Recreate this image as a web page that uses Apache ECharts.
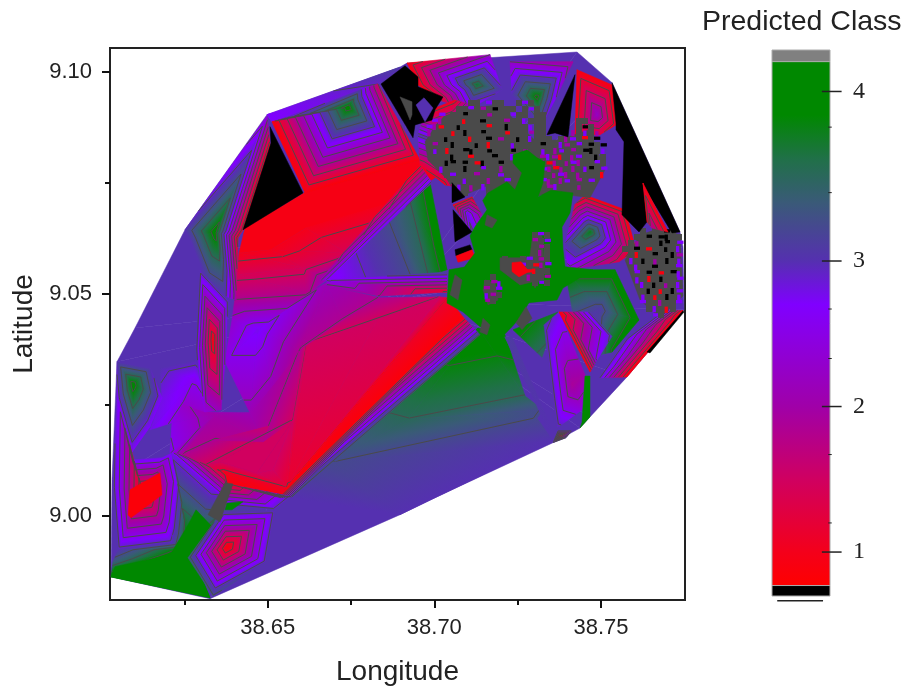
<!DOCTYPE html>
<html><head><meta charset="utf-8">
<style>html,body{margin:0;padding:0;background:#fff}#c{width:904px;height:688px}</style>
<script src="https://cdn.jsdelivr.net/npm/echarts@6/dist/echarts.min.js"></script>
</head><body><div id="c"></div>
<script>
// Geography: longitude = LON0 + a/1000, latitude = LAT0 + b/1000
const LON0 = 38.6, LAT0 = 8.98;
const lonTicks = [38.65, 38.70, 38.75], lonMinor = [38.625, 38.675, 38.725];
const latTicks = [9.00, 9.05, 9.10], latMinor = [9.025, 9.075];
const classTicks = [1, 2, 3, 4.165], classMinor = [1.2, 1.67, 2.33, 2.67, 3.47, 3.92];
const contourLevels = [1.15, 1.5, 1.85, 2.2, 2.55, 2.9, 3.25, 3.6, 3.95];
const rampStops = [[0.77,'#ff0000'],[1,'#f4001a'],[1.5,'#d00060'],[2,'#a000a8'],[2.7,'#8000ff'],[3,'#5530b0'],[3.4,'#3a5a78'],[3.7,'#207048'],[4,'#008800'],[4.37,'#008800']];

// Triangle fans: a,b,class, first vertex is the fan centre
const hullBase = [89.7,68.6,3, 49.8,110.3,3, 89.7,121,3, 91.8,121.9,3, 142.8,124.4,3, 153.3,117.5,3, 173.7,83.9,3, 174.6,80.5,3, 174.9,66.4,3, 157.8,51.3,3, 146.7,42.3,3, 143.7,39.8,3, 135.6,36.5,3, 98.7,23.6,3, 89.7,20.3,3, 32.7,1.4,3, 3,6.3,3, 3.3,28.1,3, 4.8,54.7,3, 10.2,62.3,3, 25.2,84.4,3, 49.8,110.3,3];
const plateau = [34.2,42.8,2, 22.8,45.7,2.3, 31.5,43.4,2.1, 44.7,43.2,2.1, 48.6,36.7,1.84, 34.2,37.1,1.84, 24.6,33.8,1.84, 20.7,34.2,2.6, 21.3,41,2.5, 22.8,45.7,2.3];
const plateauLow = [37.2,29.7,1, 38.1,27.2,0.9, 37.2,23.6,2.8, 21.3,34.2,2.7, 24.6,33.8,1.84, 31.8,31.6,1.49, 35.7,32.2,1.49, 46.8,29.7,1.49, 55.8,26.5,1.14, 53.1,24.1,0.85, 38.1,27.2,0.9];
const plateauEast = [59.7,57.4,1.84, 48.6,36.7,1.84, 44.7,43.2,2.1, 51.6,49.5,2.1];
const westViolet = [28.2,50.6,2.6, 17.7,53.3,3, 28.5,55.1,3, 31.2,43.4,2.3, 22.8,45.7,2.3, 21.3,41,2.5, 14.7,39.4,2.8, 18.3,46.6,2.8, 17.7,53.3,3];
const westPeak = [9.6,49.6,4.1, 4.8,54.7,3, 14.7,53.3,3, 18.3,46.6,2.7, 14.7,40.1,2.7, 9.3,34.4,2.7, 4.8,46.1,2.7, 4.8,54.7,3];
const redPeak = [12.6,25.4,0.85, 4.8,46.1,2.8, 9.3,32.6,2.8, 18.3,33.1,2.8, 21.3,34.2,2.8, 23.1,28.1,2.8, 21.6,17.6,2.8, 21.3,13.9,3, 5.1,12.4,3, 3.6,26.5,3, 4.8,46.1,2.8];
const greenFan = [26.7,12.4,4.2, 3,6.3,4.2, 3.6,9.7,3.4, 5.1,12.4,3, 21.3,13.9,3, 21.6,17.6,2.8, 23.1,28.1,2.8, 21.3,34.2,2.8, 33.6,25.9,2.8, 37.2,23.6,3, 34.2,16.9,4.2, 25.8,10.8,4.2, 32.7,1.6,4.2, 3,6.3,4.2];
const southDiamond = [37.8,13,0.85, 26.1,10.6,3.4, 33.6,2,3.3, 49.5,9.7,3, 52.2,21.1,3, 36.6,21.4,3.2, 26.1,10.6,3.4];
const ridgeTip = [38.1,27.2,1, 53.7,24.1,1, 57.3,24.3,3, 52.5,21.4,3, 37.2,22.5,3];
// lower green slope, following its read contour rows
const greenSlopeTop = [113.1,62.3,4.2, 121.2,60.8,4.2, 127.2,47,3.59, 92.1,41.7,3.59];
const greenSlopeMid = [92.1,41.7,3.59, 127.2,47,3.59, 132.6,43.9,3.24, 130.8,42,3.24, 69.6,32,3.24];
const greenSlopeLow = [69.6,32,3.24, 130.8,42,3.24, 135.6,36.9,3, 89.7,20.3,3, 56.1,24.1,3];
const greenSlopeWest = [113.1,62.3,4.2, 92.1,41.7,3.59, 69.6,32,3.24, 56.1,24.1,3];
const violetRay = [121.2,60.3,3.1, 123.3,60.3,3.1, 135.6,38.9,3, 134,39.5,3];
const ridgeBand = [108.6,64.8,0.85, 113.7,60.8,3.3, 57.3,24.3,3.3, 53.1,24.1,0.85];
// red wedge, row by row away from the ridge
const wedgeRow0 = [53.1,24.1,0.85, 108.6,64.8,0.85, 104.1,69.1,1.14, 89.7,56.7,1.14, 55.8,26.5,1.14];
const wedgeRow1 = [55.8,26.5,1.14, 89.7,56.7,1.14, 104.1,69.1,1.14, 101.7,69.3,1.49, 82.8,64.1,1.49, 61.8,58.9,1.49, 57.6,41.6,1.49, 51.6,30.4,1.49, 46.8,29.7,1.49];
const wedgeRow2a = [57.6,41.6,1.49, 51.6,30.4,1.49, 46.8,29.7,1.49, 35.7,32.2,1.49, 31.8,31.6,1.49, 24.6,33.8,1.84, 34.2,37.1,1.84, 48.6,36.7,1.84, 59.7,57.4,1.84, 61.8,58.9,1.49];
const wedgeRow2b = [61.8,58.9,1.49, 59.7,57.4,1.84, 72.6,64.1,1.84, 83.7,69.1,1.84, 101.7,69.3,1.49, 82.8,64.1,1.49];
const wedgeShoulder = [67.8,71.8,2.1, 83.7,69.1,1.84, 72.6,64.1,1.84, 59.7,57.4,1.84, 62.1,70.2,1.8];
const band1a = [41.4,79.2,1, 51,79.9,1, 60.6,75.8,1.4, 40.8,74.3,1.4];
const band1b = [51,79.9,1, 61.5,84.8,1, 73.8,79.2,1.4, 60.6,75.8,1.4];
const band1c = [61.5,84.8,1, 84.6,89.3,1, 89.7,91.1,1, 73.8,79.2,1.4];
const band1d = [89.7,91.1,1, 67.8,73.1,2.2, 73.8,79.2,1.4];
const band2a = [40.8,74.3,1.4, 60.6,75.8,1.4, 62.1,70.2,1.8, 40.2,69.1,1.8];
const band2b = [60.6,75.8,1.4, 73.8,79.2,1.4, 67.8,73.1,2.2, 62.1,70.2,1.8];
const pocket = [47.1,61.9,2.75, 40.2,69.1,1.8, 62.1,70.2,1.8, 67.8,72.5,2.1, 59.7,57.4,1.84, 51.6,49.5,2.1, 44.7,43.2,2.1, 37.2,54.7,2.5, 39.3,64.1,2.3, 40.2,69.1,1.8];
const spike = [33.6,59.8,0.9, 29.7,75.4,3, 38.1,68.6,3, 37.5,57.4,2.7, 36,43.9,2.1, 31.2,43.4,2.4, 28.5,57.4,3, 29.7,75.4,3];
const northFlank = [34.2,83.9,4.1, 25.2,84.4,3, 49.8,110,2.4, 50.7,103.5,1, 42.6,84.4,1, 41.1,82.6,1, 40.5,68.6,2, 37.2,69.5,3, 32.1,72,3, 26.7,82.1,3, 25.2,84.4,3];
const topStrip = [49.8,110.3,2.7, 89.7,121,3.1, 83.1,117.2,2.9, 51.3,108.7,2.7];
const topDiamond = [74.1,112,4.1, 51.3,108.7,0.85, 56.7,109.8,2.8, 77.7,115.9,3, 83.1,117.2,1.5, 95.7,100.1,0.85, 61.2,92.7,0.85, 51.3,108.7,0.85];
const topPatch = [112.8,117,3.8, 91.8,121.9,0.9, 116.7,123.8,2.2, 120.3,115.9,3, 110.4,111.4,2.5, 101.4,113.6,1, 95.1,117,0.9, 91.8,121.9,0.9];
const topVee = [130.8,114.3,4.05, 122.7,122.2,2.2, 141.6,122.2,1.9, 136.2,113.6,2.6, 131.7,107.3,3, 123.3,114.8,3, 122.7,122.2,2.2];
const northEast = [148.8,110.3,2.2, 142.8,120.4,0.9, 153.3,117,0.9, 154.5,108,1, 149.7,105.8,1.2, 142.2,105.8,1, 142.8,120.4,0.9];
const innerWedge = [162.6,94.9,0.9, 170.1,83.9,0.9, 165.3,84.8,1.8, 163.8,86.2,0.9];
const eastTeal = [149.7,66.4,3.1, 139.2,75.4,4.2, 154.2,75.4,4.2, 161.4,64.1,4.2, 153.3,56.9,4, 149.7,56.3,3.3, 142.2,63,3, 139.2,75.4,4.2];
const eastMid = [146.7,83.9,3.9, 145.2,92.2,0.9, 157.2,88.9,0.9, 160.5,79.9,0.9, 155.4,77.2,1.3, 140.1,75.4,2.4, 139.2,81,3, 142.2,90.1,1.2, 145.2,92.2,0.9];
const zigzag = [141.3,49.5,1.9, 132.9,63,3, 137.4,65.9,2.8, 145.2,51.8,2, 144.3,43.9,2.4, 136.8,39.8,3, 135.6,46.1,3, 132.9,63,3];
const redSliver = [137.4,65.9,0.85, 146.7,52.4,0.85, 148.8,55.1,2.6, 153.3,60.4,3, 146.7,65.9,3];
const tealTri = [123.6,61.9,4.1, 132.3,55.7,3.5, 137.1,65.9,3.8];
const tinyRed = [137.7,38,0.9, 135.6,36.5,3, 137.1,39.2,3, 141.3,39.2,3, 139.5,37.6,3, 135.6,36.5,3];
const southEastRim = [174.6,66.2,0.85, 157.8,51.3,0.85, 149.7,51.1,2.9, 157.2,59.6,3, 169.2,66.4,3];
const noiseRim = [103.2,103.5,3, 95.1,105.8,3, 97.2,110.9,1, 106.2,113.6,1, 113.7,111.9,3, 110.7,93.4,3, 103.2,94.5,1, 95.7,99,1.2, 95.1,105.8,3];
// violet-to-green star, columns of constant class
const starWest = [67.8,73.1,2.6, 86.1,86.6,3.24, 93,73.6,3.24];
const starMid = [86.1,86.6,3.24, 92.7,90.5,3.59, 98.1,74,3.59, 93,73.6,3.24];
const starEast = [92.7,90.5,3.59, 98.7,95,4.15, 103.8,75.4,4.15, 98.1,74,3.59];
const starTop = [65.7,73.1,2.1, 89.7,91.6,1, 95.7,99,1, 99.3,95,3, 67.8,73.1,2.6];
const starLow = [67.8,73.1,2.6, 103.8,74.9,3.2, 103.8,70.4,1.1, 83.7,69.5,1.84, 67.8,71.8,2.1];
const nookBand = [109.8,88.2,2.8, 105.6,90,0.9, 111.3,91.8,1, 114.3,87.8,2, 111.3,83.9,3, 105.6,90,0.9];

// Flat-valued regions: a,b pairs
const GREY = -1;
const redCore = [8.1,20.2, 8.7,25.9, 17.7,29.7, 18.3,24.8, 9,19.6];
const greenFlat = [3,6.3, 4.2,8.6, 20.7,11.2, 26.1,18, 28.5,21.4, 34.2,16.9, 31.2,13.5, 25.8,10.8, 32.7,1.6];
const greenStrip = [37.8,22.9, 42.6,23.2, 39.3,21.4, 37.2,21.4];
const greyRect = [37.2,27.5, 39.6,27.2, 35.7,18.7, 32.1,20.3];
const redTop = [43.2,84.8, 60.9,92.7, 95.7,100.1, 100.2,96.1, 89.7,91.1, 84.6,89.3, 61.5,84.8, 51,79.9, 41.4,79.2];
const blackWest = [60.6,92.7, 42.6,84.4, 51,103.9, 50.7,107.6];
const blackTop = [84,117.2, 91.2,121.3, 95.1,118.8, 95.1,116.6, 102.6,114.3, 100.2,111.4, 99.3,109.1, 94.2,108, 93.6,105.1];
const greyBird = [89.7,114.3, 93.3,113.2, 93.3,110.3, 92.7,109.1, 91.2,111.8];
const violetDot = [94.5,112.5, 96.9,114.1, 99.6,111.8, 97.2,108.7];
const blackPeak = [133.8,105.8, 142.2,119.3, 140.1,105.3, 136.2,106.2];
const blackEast = [153.3,117.5, 173.7,83.9, 171.3,83.7, 162.6,94.5, 163.8,86.2, 161.4,83.9, 156.3,87.8, 156.9,104.2, 154.5,106.9, 154.5,108.4];
const greenStripSE = [145.2,51.5, 146.7,51.5, 146.7,42.3, 143.7,39.8, 144.3,41.1];
const blackRim = [174.6,66.2, 174.9,65.9, 164.7,56.7, 163.8,56.9];
const greyEast = [161.7,83.2, 167.7,84.8, 173.7,83.2, 174.6,69.5, 167.7,64.6, 161.7,68.6, 157.2,77.6];
const greyNorth = [100.5,108, 103,110, 108.6,111.4, 113,112, 119.7,112.5, 125.4,108, 130.2,104.5, 137.4,104.6, 146.4,106.9, 151.2,97.9, 146.7,91.6, 140.4,92.2, 128.4,92.2, 122.4,93.4, 116.4,94.5, 108.9,92.2, 103.5,96, 98.1,100.1, 97.2,104.2];
const blackNookA = [105.3,95, 109.2,91.8, 105.3,90.5];
const blackNookB = [105.6,88.9, 111.3,83.9, 106.2,81.7];
const blackNookC = [106.2,79.9, 110.7,81, 111.3,79.9, 106.5,78.5];
const redNook = [106.5,78.5, 111.3,79.9, 112.2,78.1, 107.1,77.1];
const greenBlob = [123.6,101.2, 127.8,102.4, 130.8,100.6, 133.2,99.7, 132.6,95, 131.1,91.8, 135,93.3, 141.6,92.7, 140.7,88.2, 138.3,85, 138.6,80, 139.2,76.1, 147.6,75.4, 138.6,71.3, 136.8,68.6, 128.4,68, 125,64, 123.3,62.6, 120.3,60.3, 113.7,62.6, 108.6,65.9, 103.8,67.9, 104.4,75.4, 109,76, 112.2,79.2, 110.7,83, 112.2,85.1, 115.8,88.9, 114.5,91, 116.1,92.7, 121.8,95.2, 124.2,93.4, 126.3,97.2, 123.6,99.4];
const blobHoles = [[115.2,73.1, 118.2,72.4, 119.1,68.6, 116.1,67.5, 114.6,70.9],[129.6,83.7, 132.3,83, 133.2,75.4, 130.2,71.3, 128.1,75.4],[119.7,78.1, 128.7,78.1, 131.7,73.1, 125.7,72, 119.7,75.4],[124.5,63.5, 127.5,67.1, 129.3,64.5, 126.3,61.9],[114.6,64.5, 116.7,63, 115.8,60.8, 113.7,61.4],[115.8,87.8, 118.8,86.6, 117.3,84.8, 115.2,85.5],[106.2,74.3, 108.3,73.1, 107.1,68.6, 104.7,69.8]];
const redCentre = [123.3,77, 126,77.2, 128.4,75, 125.4,73.8, 123.3,75];

// Speckled zones, one letter per cell of predicted class
const speckClass = {g:GREY,k:0.5,r:0.9,m:2,v:2.7,b:3,G:4.2};
const northSpeck = ["........gg.vgg..gvg............","......ggvgmgkggg.gvg...........","...v.ggkgggmgggvggbgg..........","..vmgggrggkgggmggvggg.....gg...",".vmrggkggggrggkgggvgg.....gkg..",".mgggrgkggkgggrgggmgg....mgvgm.","..ggkgggrggkgmggkgvggg.gmvgrgk.","..mggkgggkgrgggvggggkggvmgvgkgk","..vgrggkkggkgggkgmggvgmvgmgkkgv","..gggkggrgggkggvgg.gmvmrgmvggkg","...gkkgkgrkggkg.gv.vmrmgmvmggvg","...vgggkggvggmg...gmvmrmgmgvkgv","....gvgggmgggvg...gvmgmvmgmgggr",".....ggvgggmggv...gmvmgmvgmgv..","......vgm.vggg....gvgmvgg.mgg..",".......g...gg......g.gg...g...."];
const eastSpeck = ["...g.ggkg.","..ggkgkkgg",".gmgggkkgv","ggkgrggkgv",".grggkggkm",".vgkgmgkgv","..vggkgggv","..vgkgrgkv","..vgrgkggv","...vgkgmgv","...gkgrgkv","...vgrgkgv","...vggmggv","....gvgrg.",".....vg..."];
const blobSpeck = ["........gvg.","........mgv.","........gmg.",".........mg.","...g..gv.mg.","......vgrmv.","......grrgg.",".g.....mggm.","gmv.....gvg.","mgv.........","vmg.........","mg.........."];
const noiseZones = [{rows:northSpeck,a:95.7,b:113.6,da:1.8,db:1.35},{rows:eastSpeck,a:156.3,b:84.8,da:1.8,db:1.35}];
const blobZones = [{rows:blobSpeck,a:114.9,b:83.9,da:1.8,db:1.35}];

const layers = [
 ['fan',hullBase],['fan',plateau],['fan',plateauEast],['fan',westViolet],['fan',westPeak],['fan',redPeak],['flat',0.85,redCore],
 ['fan',greenFan],['flat',4.2,greenFlat],['fan',southDiamond],
 ['fan',greenSlopeLow],['fan',greenSlopeMid],['fan',greenSlopeTop],['fan',greenSlopeWest],['fan',tealTri],['fan',violetRay],
 ['fan',plateauLow],['fan',wedgeRow2b],['fan',wedgeRow2a],['fan',wedgeRow1],['fan',wedgeRow0],['fan',ridgeBand],['fan',ridgeTip],['flat',4.2,greenStrip],['flat',GREY,greyRect],
 ['flat',0.95,redTop],['fan',band1a],['fan',band1b],['fan',band1c],['fan',band1d],['fan',band2a],['fan',band2b],['fan',wedgeShoulder],['fan',pocket],
 ['fan',northFlank],['fan',spike],['flat',0.5,blackWest],['fan',topStrip],['fan',topDiamond],['fan',topPatch],['fan',topVee],['fan',northEast],
 ['fan',starWest],['fan',starMid],['fan',starEast],['fan',starTop],['fan',starLow],
 ['fan',eastTeal],['fan',eastMid],['fan',zigzag],['fan',redSliver],['fan',tinyRed],['fan',southEastRim],
 ['fan',noiseRim],['flat',GREY,greyNorth],['flat',GREY,greyEast],['speck',noiseZones],
 ['flat',0.5,blackTop],['flat',GREY,greyBird],['flat',3,violetDot],['flat',0.5,blackPeak],['flat',0.5,blackEast],['fan',innerWedge],
 ['flat',4.2,greenStripSE],['flat',0.5,blackRim],['fan',nookBand],['flat',0.5,blackNookA],['flat',0.5,blackNookB],['flat',0.5,blackNookC],['flat',0.9,redNook],
 ['flat',4.2,greenBlob],...blobHoles.map(h=>['flat',GREY,h]),['speck',blobZones],['flat',0.9,redCentre]
];

// ---- colour ramp
const LINE = '#4a4a4a';
function hex(c){return [1,3,5].map(i=>parseInt(c.substr(i,2),16));}
function colorOf(v){
  if(v===GREY) return LINE;
  if(v<rampStops[0][0]) return '#000000';
  for(let i=1;i<rampStops.length;i++){
    if(v<=rampStops[i][0]){
      const [v0,c0]=rampStops[i-1],[v1,c1]=rampStops[i];
      const t=(v-v0)/(v1-v0),A=hex(c0),B=hex(c1);
      return 'rgb('+A.map((x,k)=>Math.round(x+(B[k]-x)*t)).join(',')+')';
    }
  }
  return rampStops[rampStops.length-1][1];
}
const toGeo = (a,b)=>[LON0+a/1000,LAT0+b/1000];

// ---- each triangle: the class field is linear, so a linear gradient paints it exactly
function triShapes(tri,api,z){
  const out=[];
  const P=tri.map(p=>api.coord(toGeo(p[0],p[1])));
  const vs=tri.map(p=>p[2]),lo=Math.min(...vs),hi=Math.max(...vs);
  const dx1=P[1][0]-P[0][0],dy1=P[1][1]-P[0][1],dx2=P[2][0]-P[0][0],dy2=P[2][1]-P[0][1];
  const dv1=vs[1]-vs[0],dv2=vs[2]-vs[0],det=dx1*dy2-dx2*dy1;
  if(Math.abs(det)<1e-6) return out;
  if(hi-lo<1e-6){
    const c=colorOf(lo);
    out.push({type:'polygon',z2:z,shape:{points:P},style:{fill:c,stroke:c,lineWidth:0.5}});
    return out;
  }
  const gx=(dv1*dy2-dv2*dy1)/det,gy=(dx1*dv2-dx2*dv1)/det,n2=gx*gx+gy*gy;
  const at=v=>[P[0][0]+gx*(v-vs[0])/n2,P[0][1]+gy*(v-vs[0])/n2];
  const A=at(lo),B=at(hi);
  const stops=[{offset:0,color:colorOf(Math.max(lo,0.8))}];
  rampStops.forEach(s=>{if(s[0]>lo&&s[0]<hi)stops.push({offset:(s[0]-lo)/(hi-lo),color:s[1]});});
  stops.push({offset:1,color:colorOf(hi)});
  const grad=()=>new echarts.graphic.LinearGradient(A[0],A[1],B[0],B[1],stops,true);
  out.push({type:'polygon',z2:z,shape:{points:P},style:{fill:grad(),stroke:grad(),lineWidth:0.6}});
  contourLevels.forEach(L=>{
    if(L<=lo||L>=hi)return;
    const seg=[];
    for(let i=0;i<3;i++){
      const p=tri[i],q=tri[(i+1)%3];
      if((p[2]<L)!==(q[2]<L)){const k=(L-p[2])/(q[2]-p[2]);seg.push(api.coord(toGeo(p[0]+(q[0]-p[0])*k,p[1]+(q[1]-p[1])*k)));}
    }
    if(seg.length===2) out.push({type:'line',z2:z+0.5,shape:{x1:seg[0][0],y1:seg[0][1],x2:seg[1][0],y2:seg[1][1]},style:{stroke:LINE,lineWidth:1}});
  });
  return out;
}
function layerShapes(layer,api,z){
  const kind=layer[0];
  if(kind==='fan'){
    const arr=layer[1],pts=[];
    for(let i=0;i<arr.length;i+=3)pts.push([arr[i],arr[i+1],arr[i+2]]);
    let out=[];
    for(let i=1;i<pts.length-1;i++)out=out.concat(triShapes([pts[0],pts[i],pts[i+1]],api,z));
    return out;
  }
  if(kind==='flat'){
    const arr=layer[2],pts=[];
    for(let i=0;i<arr.length;i+=2)pts.push(api.coord(toGeo(arr[i],arr[i+1])));
    const c=colorOf(layer[1]);
    return [{type:'polygon',z2:z,shape:{points:pts},style:{fill:c,stroke:c,lineWidth:0.5}}];
  }
  const out=[];
  layer[1].forEach(zn=>zn.rows.forEach((row,r)=>[...row].forEach((ch,cc)=>{
    if(ch==='.')return;
    const p0=api.coord(toGeo(zn.a+cc*zn.da,zn.b-r*zn.db)),p1=api.coord(toGeo(zn.a+(cc+1)*zn.da,zn.b-(r+1)*zn.db));
    const w=p1[0]-p0[0],h=p1[1]-p0[1];
    const isGrey=ch==='g';
    const tall=(r+cc)%2===0;
    const sw=isGrey?w:w*(tall?0.55:1.05), sh=isGrey?h:h*(tall?1.05:0.55);
    const sx=isGrey?0:((r*7+cc*3)%3)*w*0.1, sy=isGrey?0:((r*5+cc*2)%3)*h*0.1;
    out.push({type:'rect',z2:z,shape:{x:p0[0]+sx,y:p0[1]+sy,width:sw,height:sh},style:{fill:colorOf(speckClass[ch])}});
  })));
  return out;
}

// ---- colour bar
const CB_LOW=0.698, CB_HIGH=4.45, CB_RED=0.77, CB_TOP=4.37, CB_UNDER=0.665;
const barStops=rampStops.map(s=>({offset:(CB_TOP-s[0])/(CB_TOP-CB_RED),color:s[1]})).reverse();

const chart=echarts.init(document.getElementById('c'),null,{renderer:'canvas'});
const tickText={fontFamily:'Liberation Sans',fontSize:22,color:'#222'};
const titleText={fontFamily:'Liberation Sans',fontSize:28,color:'#222'};
chart.setOption({
 animation:false,backgroundColor:'#fff',
 title:{text:'Predicted Class',left:697,top:3,textStyle:{...titleText,fontSize:28.5,fontWeight:'normal'}},
 grid:[{left:110,top:48,width:575,height:552,show:true,borderColor:'#222',borderWidth:2,backgroundColor:'#fff',outerBoundsMode:'none'},{left:772,top:50,width:58,height:546,outerBoundsMode:'none'}],
 xAxis:[
  {gridIndex:0,type:'value',position:'bottom',min:38.6027,max:38.7752,splitLine:{show:false},axisLine:{show:false},
   axisTick:{length:8,customValues:lonTicks,lineStyle:{color:'#111',width:2}},
   axisLabel:{customValues:lonTicks,formatter:v=>v.toFixed(2),margin:17,...tickText},
   name:'Longitude',nameLocation:'middle',nameGap:58,nameTextStyle:titleText},
  {gridIndex:0,type:'value',position:'bottom',min:38.6027,max:38.7752,splitLine:{show:false},axisLine:{show:false},axisLabel:{show:false},
   axisTick:{length:5,customValues:lonMinor,lineStyle:{color:'#111',width:2}}},
  {gridIndex:1,type:'value',min:0,max:1,show:false}
 ],
 yAxis:[
  {gridIndex:0,type:'value',position:'left',min:8.9811,max:9.1053,splitLine:{show:false},axisLine:{show:false},
   axisTick:{length:8,customValues:latTicks,lineStyle:{color:'#111',width:2}},
   axisLabel:{customValues:latTicks,formatter:v=>v.toFixed(2),margin:18,...tickText},
   name:'Latitude',nameLocation:'middle',nameGap:72,nameTextStyle:titleText},
  {gridIndex:0,type:'value',position:'left',min:8.9811,max:9.1053,splitLine:{show:false},axisLine:{show:false},axisLabel:{show:false},
   axisTick:{length:5,customValues:latMinor,lineStyle:{color:'#111',width:2}}},
  {gridIndex:1,type:'value',position:'right',min:CB_LOW,max:CB_HIGH,splitLine:{show:false},axisLine:{show:false},axisTick:{show:false},
   axisLabel:{customValues:classTicks,formatter:v=>String(Math.round(v)),margin:23,fontFamily:'Liberation Serif',fontSize:24,color:'#222'}}
 ],
 series:[
  {type:'custom',xAxisIndex:0,yAxisIndex:0,silent:true,clip:true,coordinateSystem:'cartesian2d',encode:{x:0,y:1},
   data:layers.map((l,i)=>[38.7,9.05,i]),
   renderItem:(p,api)=>({type:'group',children:layerShapes(layers[api.value(2)],api,api.value(2)+1)})},
  {type:'custom',xAxisIndex:2,yAxisIndex:2,silent:true,coordinateSystem:'cartesian2d',encode:{x:0,y:1},
   data:[[0,CB_LOW]],
   renderItem:(p,api)=>{
     const rect=(lo,hi,fill)=>{const a=api.coord([0,hi]),b=api.coord([1,lo]);return {type:'rect',shape:{x:a[0],y:a[1],width:b[0]-a[0],height:b[1]-a[1]},style:{fill,stroke:'#aaa',lineWidth:1}};};
     const tick=(v,x0,x1,w)=>{const a=api.coord([x0,v]),b=api.coord([x1,v]);return {type:'line',z2:5,shape:{x1:a[0],y1:a[1],x2:b[0],y2:b[1]},style:{stroke:'#222',lineWidth:w}};};
     return {type:'group',children:[
       rect(CB_TOP,CB_HIGH,'#808080'),
       rect(CB_LOW,CB_RED,'#000000'),
       rect(CB_RED,CB_TOP,new echarts.graphic.LinearGradient(0,0,0,1,barStops)),
       ...classTicks.map(v=>tick(v,0.86,1.2,1.5)),
       ...classMinor.map(v=>tick(v,0.97,1.03,1)),
       tick(CB_UNDER,0.09,0.88,1.5)
     ]};
   }}
 ]
});
</script></body></html>
